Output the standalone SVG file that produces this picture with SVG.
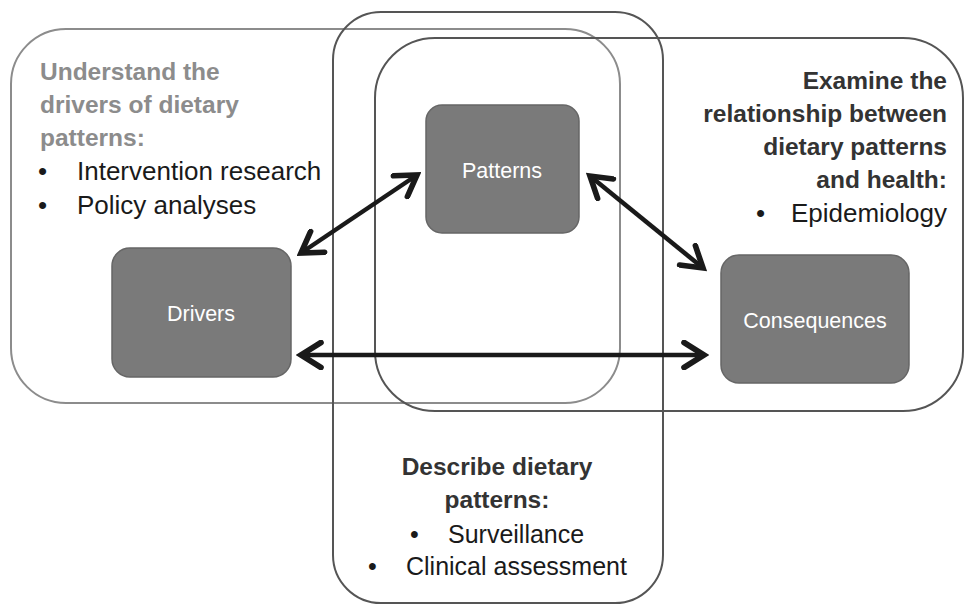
<svg xmlns="http://www.w3.org/2000/svg" width="964" height="604" viewBox="0 0 964 604">
<defs>
<marker id="ah" markerUnits="userSpaceOnUse" markerWidth="30" markerHeight="30" refX="20" refY="12" orient="auto-start-reverse" viewBox="0 0 24 24">
<path d="M4,2 L20,12 L4,22" fill="none" stroke="#1a1a1a" stroke-width="4.5" stroke-linecap="round" stroke-linejoin="miter"/>
</marker>
<style>
.area{fill:none;stroke-width:2}
.node rect{fill:#7a7a7a;stroke:#666;stroke-width:1.5}
.node text{fill:#fff;font-family:"Liberation Sans",Arial,sans-serif;font-size:21.5px;text-anchor:middle}
.t{font-family:"Liberation Sans",Arial,sans-serif;font-size:26px}
.s{font-size:25px}
.h{font-weight:bold;font-size:24.5px}
.conn line{stroke:#1a1a1a;stroke-width:4.5;marker-start:url(#ah);marker-end:url(#ah)}
</style>
</defs>
<rect width="964" height="604" fill="#fff"/>
<g id="area-drivers">
<rect class="area" x="11" y="29" width="609" height="374" rx="55" stroke="#8c8c8c"/>
<text class="t h" x="40" y="80" fill="#8c8c8c">Understand the</text>
<text class="t h" x="40" y="113" fill="#8c8c8c">drivers of dietary</text>
<text class="t h" x="40" y="146" fill="#8c8c8c">patterns:</text>
<text class="t" x="38" y="180" fill="#1a1a1a">•</text>
<text class="t" x="77" y="180" fill="#1a1a1a">Intervention research</text>
<text class="t" x="38" y="214" fill="#1a1a1a">•</text>
<text class="t" x="77" y="214" fill="#1a1a1a">Policy analyses</text>
</g>
<g id="area-patterns">
<rect class="area" x="333" y="12" width="330" height="591" rx="48" stroke="#555"/>
<text class="t h" x="497" y="475" fill="#333" text-anchor="middle">Describe dietary</text>
<text class="t h" x="497" y="508" fill="#333" text-anchor="middle">patterns:</text>
<text class="t s" x="410" y="543" fill="#1a1a1a">•</text>
<text class="t s" x="448" y="543" fill="#1a1a1a">Surveillance</text>
<text class="t s" x="368" y="575" fill="#1a1a1a">•</text>
<text class="t s" x="406" y="575" fill="#1a1a1a">Clinical assessment</text>
</g>
<g id="area-consequences">
<rect class="area" x="375" y="38" width="588" height="373" rx="60" stroke="#555"/>
<text class="t h" x="947" y="89" fill="#333" text-anchor="end">Examine the</text>
<text class="t h" x="947" y="122" fill="#333" text-anchor="end">relationship between</text>
<text class="t h" x="947" y="155" fill="#333" text-anchor="end">dietary patterns</text>
<text class="t h" x="947" y="188" fill="#333" text-anchor="end">and health:</text>
<text class="t" x="756" y="222" fill="#1a1a1a">•</text>
<text class="t" x="947" y="222" fill="#1a1a1a" text-anchor="end">Epidemiology</text>
</g>
<g id="node-patterns" class="node">
<rect x="426" y="105" width="153" height="128" rx="16"/>
<text x="502" y="178">Patterns</text>
</g>
<g id="node-drivers" class="node">
<rect x="112" y="248" width="179" height="129" rx="18"/>
<text x="201" y="321">Drivers</text>
</g>
<g id="node-consequences" class="node">
<rect x="721" y="255" width="188" height="128" rx="18"/>
<text x="815" y="328">Consequences</text>
</g>
<g id="connectors" class="conn">
<line x1="301" y1="253" x2="417" y2="175"/>
<line x1="590" y1="176" x2="703" y2="268"/>
<line x1="301" y1="355" x2="704" y2="355"/>
</g>
</svg>
